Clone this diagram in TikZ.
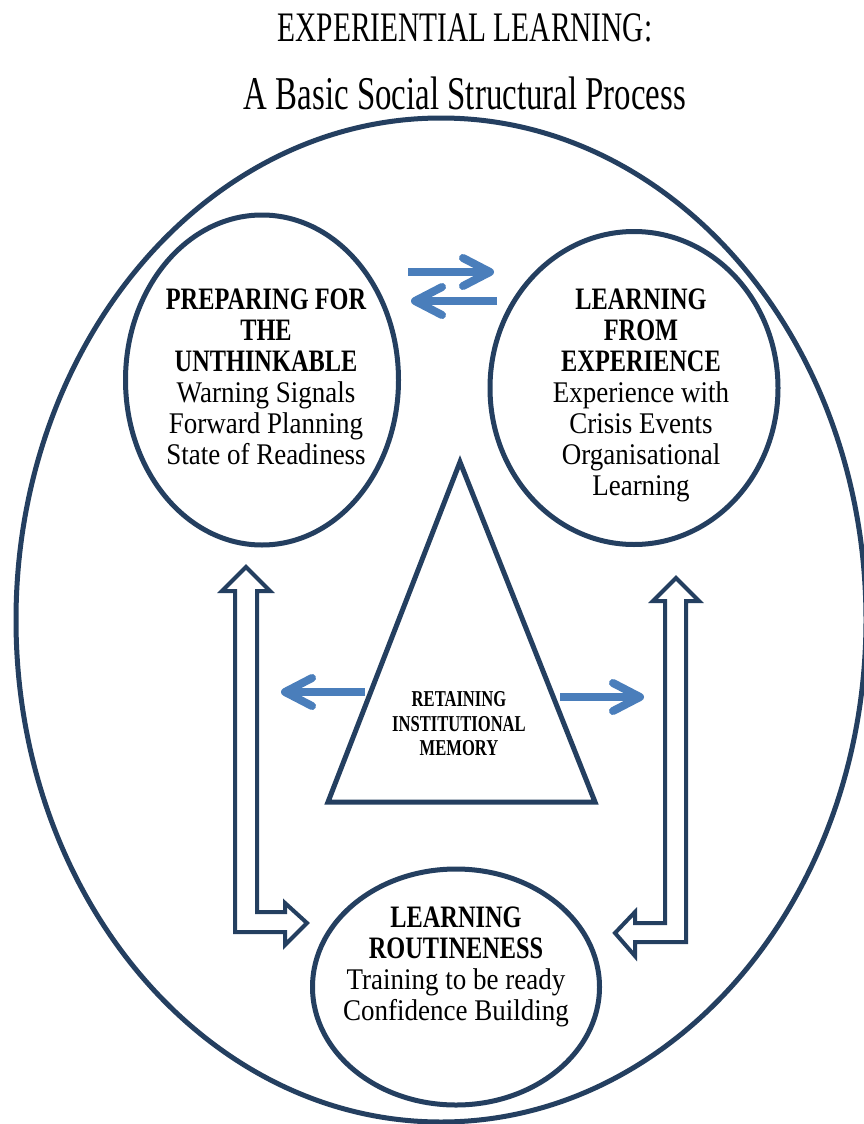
\documentclass[tikz,border=0pt]{standalone}
\usepackage{fontspec}
\newfontfamily\titlefont[FakeStretch=0.70]{Liberation Serif}
\newfontfamily\regfont[FakeStretch=0.90]{Liberation Serif}
\newfontfamily\boldfont[FakeStretch=0.78]{Liberation Serif}
\newfontfamily\memfont[FakeStretch=0.73]{Liberation Serif}
\usetikzlibrary{shapes.geometric,calc}
\definecolor{navy}{HTML}{243F60}
\definecolor{arrowblue}{HTML}{4A7EBB}
\newcommand\tightlines{\lineskiplimit=-100pt\relax\lineskip=0pt\relax}
\newcommand\circfont{\regfont\fontsize{30}{31}\selectfont\tightlines}
\newcommand\trifont{\memfont\bfseries\fontsize{22.7}{24.5}\selectfont\tightlines}
\tikzset{
  ring/.style={ellipse, draw=navy, line width=5pt, inner sep=0pt},
  hollow/.style={draw=navy, line width=4pt, fill=white, line join=miter},
  shaft/.style={draw=arrowblue, line width=8pt, line cap=butt},
  barb/.style={draw=arrowblue, line width=8pt, line cap=round, line join=round},
  txt/.style={align=center, inner sep=0pt, font=\circfont},
}
\newcommand\bl[1]{{\boldfont\bfseries\fontsize{31.2}{31}\selectfont #1}}
\newcommand\rl[1]{{\regfont\fontsize{30}{31}\selectfont #1}}
\newcommand\ml[1]{{\memfont\bfseries\fontsize{22.7}{24.5}\selectfont #1}}
\begin{document}
\begin{tikzpicture}[x=1pt,y=-1pt]
\useasboundingbox (0,0) rectangle (863,1124);
\fill[white] (0,0) rectangle (863,1124);

% title
\node[inner sep=0pt, font=\titlefont\fontsize{42}{42}\selectfont] (title1) at (465,28) {EXPERIENTIAL LEARNING:};
\node[inner sep=0pt, font=\titlefont\fontsize{47}{47}\selectfont] (title2) at (465,93) {A Basic Social Structural Process};

% ellipses
\node[ring, minimum width=850pt, minimum height=1004pt] (outer) at (441,620) {};
\node[ring, minimum width=273pt, minimum height=330pt] (prep) at (262,380) {};
\node[ring, minimum width=288pt, minimum height=313pt] (learn) at (634,388) {};
\node[ring, minimum width=287pt, minimum height=236pt] (rout) at (456,987) {};

% triangle
\coordinate (apex) at (460,462);
\coordinate (tbl) at (328,802);
\coordinate (tbr) at (595,802);
\draw[navy, line width=5pt, line join=miter] (apex) -- (tbl) -- (tbr) -- cycle;

% texts
\node[txt] (preptxt) at (266,377) {\bl{PREPARING FOR}\\\bl{THE}\\\bl{UNTHINKABLE}\\\rl{Warning Signals}\\\rl{Forward Planning}\\\rl{State of Readiness}};
\node[txt] (learntxt) at (641,395) {\bl{LEARNING}\\\bl{FROM}\\\bl{EXPERIENCE}\\\rl{Experience with}\\\rl{Crisis Events}\\\rl{Organisational}\\\rl{Learning}};
\node[txt] (routtxt) at (456,967) {\bl{LEARNING}\\\bl{ROUTINENESS}\\\rl{Training to be ready}\\\rl{Confidence Building}};
\node[txt, font=\trifont] (memtxt) at (459,724) {\ml{RETAINING}\\\ml{INSTITUTIONAL}\\\ml{MEMORY}};

% blue arrows (top pair)
\coordinate (a1s) at (408,272); \coordinate (a1t) at (490,272);
\draw[shaft] (a1s) -- (a1t);
\draw[barb] ($(a1t)+(-27,-14)$) -- (a1t) -- ($(a1t)+(-27,14)$);
\coordinate (a2s) at (497,301); \coordinate (a2t) at (415,301);
\draw[shaft] (a2s) -- (a2t);
\draw[barb] ($(a2t)+(27,-14)$) -- (a2t) -- ($(a2t)+(27,14)$);
% blue arrows (from triangle)
\coordinate (a3s) at (365,692); \coordinate (a3t) at (285,692);
\draw[shaft] (a3s) -- (a3t);
\draw[barb] ($(a3t)+(27,-14)$) -- (a3t) -- ($(a3t)+(27,14)$);
\coordinate (a4s) at (560,697); \coordinate (a4t) at (640,697);
\draw[shaft] (a4s) -- (a4t);
\draw[barb] ($(a4t)+(-27,-14)$) -- (a4t) -- ($(a4t)+(-27,14)$);

% hollow arrows
\draw[hollow] (235,591) -- (222,591) -- (246,567) -- (270,591) -- (257,591) -- (257,912) -- (285,912) -- (285,903) -- (307,923) -- (285,945) -- (285,932) -- (235,932) -- cycle;
\draw[hollow] (665,601) -- (653,601) -- (676,578) -- (699,601) -- (686,601) -- (686,942) -- (635,942) -- (635,956) -- (615,933) -- (635,912) -- (635,923) -- (665,923) -- cycle;
\end{tikzpicture}
\end{document}
